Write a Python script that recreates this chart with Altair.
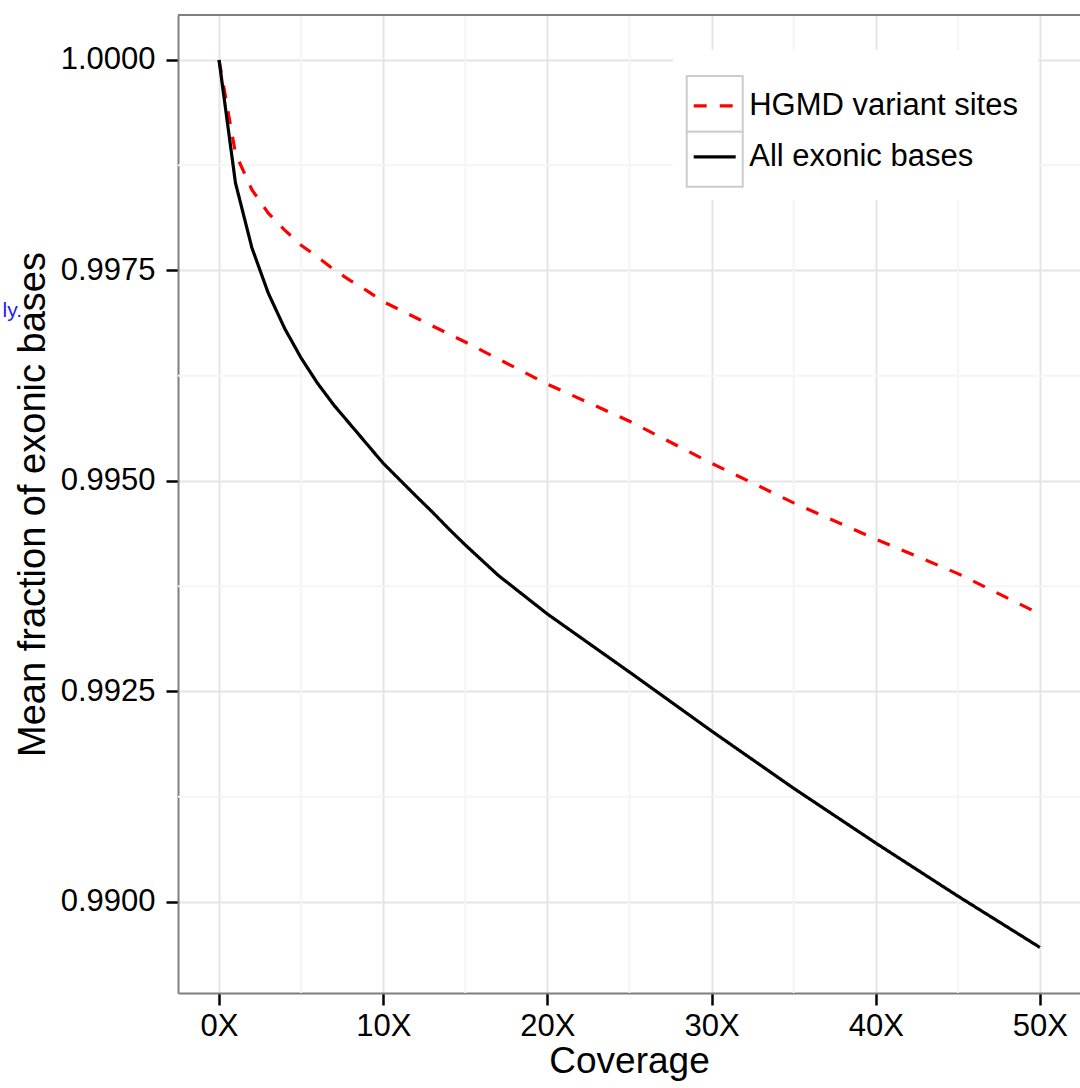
import altair as alt
import pandas as pd

# ---- data ----
series_names = ["HGMD variant sites", "All exonic bases"]

coverage_hgmd = [0, 1, 2, 3, 4, 5, 6, 7, 8, 9, 10, 15, 20, 25, 30, 35, 40, 45, 50]
fraction_hgmd = [1.0, 0.99889, 0.99846, 0.99818, 0.99798, 0.99780, 0.99766, 0.99751,
                 0.99738, 0.99726, 0.99713, 0.99665, 0.99615, 0.99571, 0.99521,
                 0.99474, 0.99431, 0.99390, 0.99342]

coverage_all = [0, 1, 2, 3, 4, 5, 6, 7, 8, 9, 10, 12, 13, 14, 15, 17, 20, 25, 30, 35, 40, 45, 50]
fraction_all = [1.0, 0.99854, 0.99777, 0.99723, 0.99681, 0.99646, 0.99616, 0.99590,
                0.99567, 0.99544, 0.99521, 0.99482, 0.99463, 0.99443, 0.99424,
                0.99388, 0.99342, 0.99273, 0.99203, 0.99135, 0.99070, 0.99007, 0.98946]

x_ticks = [0, 10, 20, 30, 40, 50]
y_ticks = [0.9900, 0.9925, 0.9950, 0.9975, 1.0000]
x_minor = [5, 15, 25, 35, 45]
y_minor = [0.99125, 0.99375, 0.99625, 0.99875]

df = pd.concat([
    pd.DataFrame({"series": series_names[0], "coverage": coverage_hgmd, "fraction": fraction_hgmd}),
    pd.DataFrame({"series": series_names[1], "coverage": coverage_all, "fraction": fraction_all}),
])

FONT = "Liberation Sans"
W, H = 902, 978

xscale = alt.Scale(domain=[-2.5, 52.44], nice=False, zero=False)
yscale = alt.Scale(domain=[0.988919, 1.000534], nice=False, zero=False)

xaxis = alt.Axis(values=x_ticks, labelExpr="datum.value + 'X'", title="Coverage",
                 grid=True, gridColor="#e5e5e5", gridWidth=2,
                 domainColor="#7f7f7f", domainWidth=2,
                 tickColor="#000000", tickWidth=2.5, tickSize=12,
                 labelFont=FONT, labelFontSize=31, labelColor="#000000", labelPadding=6,
                 labelFlush=False,
                 titleFont=FONT, titleFontSize=37, titleFontWeight="normal",
                 titleColor="#000000", titlePadding=2)
yaxis = alt.Axis(values=y_ticks, format=".4f", title="Mean fraction of exonic bases",
                 grid=True, gridColor="#e5e5e5", gridWidth=2,
                 domainColor="#7f7f7f", domainWidth=2,
                 tickColor="#000000", tickWidth=2.5, tickSize=12,
                 labelFont=FONT, labelFontSize=31, labelColor="#000000", labelPadding=11,
                 labelFlush=False,
                 titleFont=FONT, titleFontSize=38, titleFontWeight="normal",
                 titleColor="#000000", titlePadding=8)

legend_kw = dict(title=None, orient="none", legendX=513.7, legendY=67.8,
                 symbolType="stroke", symbolSize=1764, symbolStrokeWidth=3.2,
                 labelFont=FONT, labelFontSize=31, labelColor="#000000",
                 labelOffset=11.5, rowPadding=13, padding=0, labelLimit=0)

one = alt.Data(values=[{"k": 1}])

minor_x = alt.Chart(pd.DataFrame({"coverage": x_minor})).mark_rule(
    color="#f5f5f5", strokeWidth=2).encode(x=alt.X("coverage:Q", scale=xscale, axis=xaxis))
minor_y = alt.Chart(pd.DataFrame({"fraction": y_minor})).mark_rule(
    color="#f5f5f5", strokeWidth=2).encode(y=alt.Y("fraction:Q", scale=yscale, axis=yaxis))

legend_bg = alt.Chart(one).mark_rect(fill="white").encode(
    x=alt.value(495), x2=alt.value(860), y=alt.value(35), y2=alt.value(185))
key1 = alt.Chart(one).mark_rect(fill="white", stroke="#cccccc", strokeWidth=2).encode(
    x=alt.value(508.7), x2=alt.value(564.7), y=alt.value(61), y2=alt.value(116.7))
key2 = alt.Chart(one).mark_rect(fill="white", stroke="#cccccc", strokeWidth=2).encode(
    x=alt.value(508.7), x2=alt.value(564.7), y=alt.value(116.7), y2=alt.value(171.7))

top_border = alt.Chart(one).mark_rule(color="#7f7f7f", strokeWidth=2).encode(
    x=alt.value(0), x2=alt.value(W), y=alt.value(0))

lines = alt.Chart(df).mark_line(strokeWidth=3.2).encode(
    x=alt.X("coverage:Q", scale=xscale, axis=xaxis),
    y=alt.Y("fraction:Q", scale=yscale, axis=yaxis),
    color=alt.Color("series:N", scale=alt.Scale(domain=series_names, range=["#ff0000", "#000000"]),
                    legend=alt.Legend(**legend_kw)),
    strokeDash=alt.StrokeDash("series:N", scale=alt.Scale(domain=series_names, range=[[13, 13], [1, 0]]),
                              legend=alt.Legend(**legend_kw)),
    order=alt.Order("coverage:Q"),
)

stray = alt.Chart(one).mark_text(text="ly.", font=FONT, fontSize=21, color="#1a1aff",
                                 align="right", baseline="alphabetic").encode(
    x=alt.value(-156), y=alt.value(302))

chart = alt.layer(minor_x, minor_y, legend_bg, key1, key2, top_border, lines, stray).properties(
    width=W, height=H,
    padding={"left": 178, "top": 15, "right": 0, "bottom": 95},
    autosize=alt.AutoSizeParams(type="none"),
    background="white",
).configure_view(stroke=None)

chart.save("out.html", embed_options={"renderer": "svg", "actions": False})
